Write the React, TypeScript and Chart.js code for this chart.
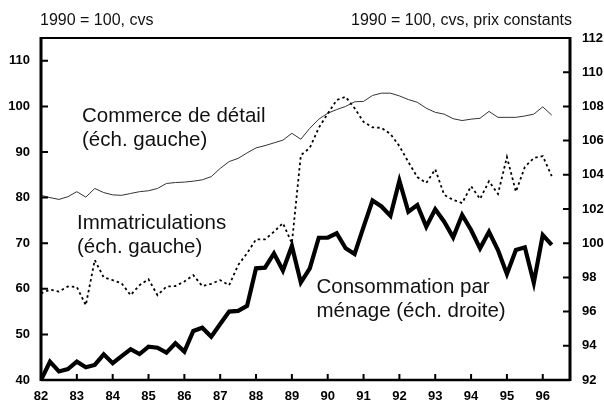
import React, { useEffect, useRef } from "react";
import { Chart, registerables } from "chart.js";

Chart.register(...registerables);

// ---- data (quarterly, 1982 Q1 .. 1996 Q2) ----
const FIRST_YEAR = 82;
const X_TICKS = [82, 83, 84, 85, 86, 87, 88, 89, 90, 91, 92, 93, 94, 95, 96];
const LEFT_TICKS = [40, 50, 60, 70, 80, 90, 100, 110];
const RIGHT_TICKS = [92, 94, 96, 98, 100, 102, 104, 106, 108, 110, 112];

// Commerce de détail (échelle gauche)
const RETAIL = [
  80.5, 80.0, 79.6, 80.2, 81.3, 80.1, 82.0, 81.1, 80.6, 80.5,
  80.9, 81.3, 81.5, 82.0, 83.1, 83.3, 83.4, 83.6, 83.9, 84.6,
  86.4, 87.9, 88.6, 89.8, 90.9, 91.4, 92.0, 92.6, 94.1, 92.8,
  95.2, 97.2, 98.5, 99.3, 100.0, 101.0, 101.1, 102.4, 102.9, 102.9,
  102.3, 101.5, 100.9, 99.6, 98.7, 98.3, 97.3, 96.9, 97.2, 97.4,
  98.9, 97.6, 97.6, 97.6, 97.9, 98.3, 99.9, 98.1,
];

// Immatriculations (échelle gauche)
const IMMAT = [
  59.0, 59.8, 59.4, 60.5, 60.4, 56.4, 66.3, 62.5, 61.9, 61.2,
  58.6, 60.8, 62.1, 58.6, 60.5, 60.6, 61.6, 63.0, 60.6, 61.1,
  61.9, 60.8, 65.2, 67.8, 70.85, 70.85, 72.5, 74.4, 70.0, 89.3,
  90.9, 95.3, 98.4, 101.4, 102.1, 99.6, 96.6, 95.4, 95.3, 93.95,
  91.3, 87.8, 84.5, 83.2, 86.2, 80.6, 79.5, 78.8, 82.5, 79.7,
  83.6, 80.8, 88.9, 81.3, 86.7, 88.7, 89.1, 84.7,
];

// Consommation par ménage (échelle droite)
const CONSO = [
  92.0, 93.07, 92.5, 92.64, 93.07, 92.74, 92.88, 93.5, 92.98, 93.4,
  93.8, 93.52, 93.95, 93.89, 93.6, 94.15, 93.66, 94.87, 95.06, 94.53,
  95.27, 96.0, 96.04, 96.33, 98.53, 98.57, 99.4, 98.4, 99.84, 97.7,
  98.53, 100.32, 100.32, 100.58, 99.7, 99.37, 100.96, 102.5, 102.15, 101.6,
  103.65, 101.84, 102.23, 100.96, 101.98, 101.26, 100.34, 101.65, 100.77, 99.7,
  100.67, 99.6, 98.2, 99.6, 99.76, 97.69, 100.48, 99.9,
];

const TITLE_LEFT = "1990 = 100, cvs";
const TITLE_RIGHT = "1990 = 100, cvs, prix constants";
const NOTES = [
  { lines: ["Commerce de détail", "(éch. gauche)"], x: 82, y: 121.5 },
  { lines: ["Immatriculations", "(éch. gauche)"], x: 77, y: 228.5 },
  { lines: ["Consommation par", "ménage (éch. droite)"], x: 316.5, y: 292.5 },
];

const FONT = "'Liberation Sans', Arial, Helvetica, sans-serif";

const toPoints = (arr: number[]) =>
  arr.map((v, i) => ({ x: FIRST_YEAR + i / 4, y: v }));

export default function App() {
  const ref = useRef<HTMLCanvasElement | null>(null);

  useEffect(() => {
    document.body.style.margin = "0";
    if (!ref.current) return;

    const decorPlugin = {
      id: "decor",
      afterDatasetsDraw(chart: any) {
        const { ctx, chartArea: a, scales } = chart;
        ctx.save();
        ctx.strokeStyle = "#000";
        ctx.lineCap = "butt";
        // frame
        ctx.lineWidth = 2;
        ctx.beginPath();
        ctx.moveTo(a.left, a.top);
        ctx.lineTo(a.right, a.top);
        ctx.stroke();
        ctx.lineWidth = 2.5;
        ctx.beginPath();
        ctx.moveTo(a.left, a.bottom);
        ctx.lineTo(a.right, a.bottom);
        ctx.stroke();
        ctx.lineWidth = 3;
        ctx.beginPath();
        ctx.moveTo(a.left, a.top - 1);
        ctx.lineTo(a.left, a.bottom + 1);
        ctx.moveTo(a.right, a.top - 1);
        ctx.lineTo(a.right, a.bottom + 1);
        ctx.stroke();
        // inward ticks
        ctx.lineWidth = 2;
        ctx.beginPath();
        for (const v of LEFT_TICKS) {
          const y = scales.yL.getPixelForValue(v);
          ctx.moveTo(a.left, y);
          ctx.lineTo(a.left + 7, y);
        }
        for (const v of RIGHT_TICKS) {
          const y = scales.yR.getPixelForValue(v);
          ctx.moveTo(a.right, y);
          ctx.lineTo(a.right - 7, y);
        }
        for (const v of X_TICKS) {
          const x = scales.x.getPixelForValue(v);
          ctx.moveTo(x, a.bottom);
          ctx.lineTo(x, a.bottom - 6);
        }
        ctx.stroke();
        ctx.restore();
      },
      afterDraw(chart: any) {
        const { ctx, chartArea: a } = chart;
        ctx.save();
        ctx.fillStyle = "#111";
        ctx.textBaseline = "alphabetic";
        ctx.font = `16px ${FONT}`;
        ctx.textAlign = "left";
        ctx.fillText(TITLE_LEFT, a.left - 1, 25);
        ctx.textAlign = "right";
        ctx.fillText(TITLE_RIGHT, a.right + 2, 25);
        ctx.font = `20.5px ${FONT}`;
        ctx.textAlign = "left";
        for (const n of NOTES) {
          n.lines.forEach((t, k) => ctx.fillText(t, n.x, n.y + k * 24.5));
        }
        ctx.restore();
      },
    };

    const tickFont = { family: FONT, size: 13, weight: "bold" as const };

    const chart = new Chart(ref.current, {
      type: "line",
      data: {
        datasets: [
          {
            label: "Consommation par ménage",
            data: toPoints(CONSO),
            yAxisID: "yR",
            borderColor: "#000",
            borderWidth: 4.2,
            borderJoinStyle: "miter",
            pointRadius: 0,
            tension: 0,
          },
          {
            label: "Immatriculations",
            data: toPoints(IMMAT),
            yAxisID: "yL",
            borderColor: "#000",
            borderWidth: 1.8,
            borderDash: [2.5, 3],
            pointRadius: 0,
            tension: 0,
          },
          {
            label: "Commerce de détail",
            data: toPoints(RETAIL),
            yAxisID: "yL",
            borderColor: "#333",
            borderWidth: 1,
            pointRadius: 0,
            tension: 0,
          },
        ],
      },
      options: {
        responsive: false,
        animation: false,
        devicePixelRatio: 1,
        layout: { padding: { top: 38, left: 0, right: 0, bottom: 0 } },
        plugins: { legend: { display: false }, tooltip: { enabled: false } },
        scales: {
          x: {
            type: "linear",
            min: FIRST_YEAR,
            max: 96.76,
            afterBuildTicks: (s: any) => {
              s.ticks = X_TICKS.map((v) => ({ value: v }));
            },
            afterFit: (s: any) => {
              s.height = 26;
            },
            grid: { display: false, drawTicks: false },
            border: { display: false },
            ticks: {
              padding: 9,
              color: "#000",
              font: tickFont,
              maxRotation: 0,
              autoSkip: false,
              callback: (v: any) => String(v),
            },
          },
          yL: {
            type: "linear",
            position: "left",
            min: 40,
            max: 115,
            afterBuildTicks: (s: any) => {
              s.ticks = LEFT_TICKS.map((v) => ({ value: v }));
            },
            afterFit: (s: any) => {
              s.width = 41;
            },
            grid: { display: false, drawTicks: false },
            border: { display: false },
            ticks: { padding: 11, color: "#000", font: tickFont },
          },
          yR: {
            type: "linear",
            position: "right",
            min: 92,
            max: 112,
            afterBuildTicks: (s: any) => {
              s.ticks = RIGHT_TICKS.map((v) => ({ value: v }));
            },
            afterFit: (s: any) => {
              s.width = 34;
            },
            grid: { display: false, drawTicks: false },
            border: { display: false },
            ticks: { padding: 12, color: "#000", font: tickFont },
          },
        },
      },
      plugins: [decorPlugin],
    } as any);

    return () => chart.destroy();
  }, []);

  return (
    <canvas
      ref={ref}
      width={604}
      height={406}
      style={{ display: "block", width: 604, height: 406 }}
    />
  );
}
